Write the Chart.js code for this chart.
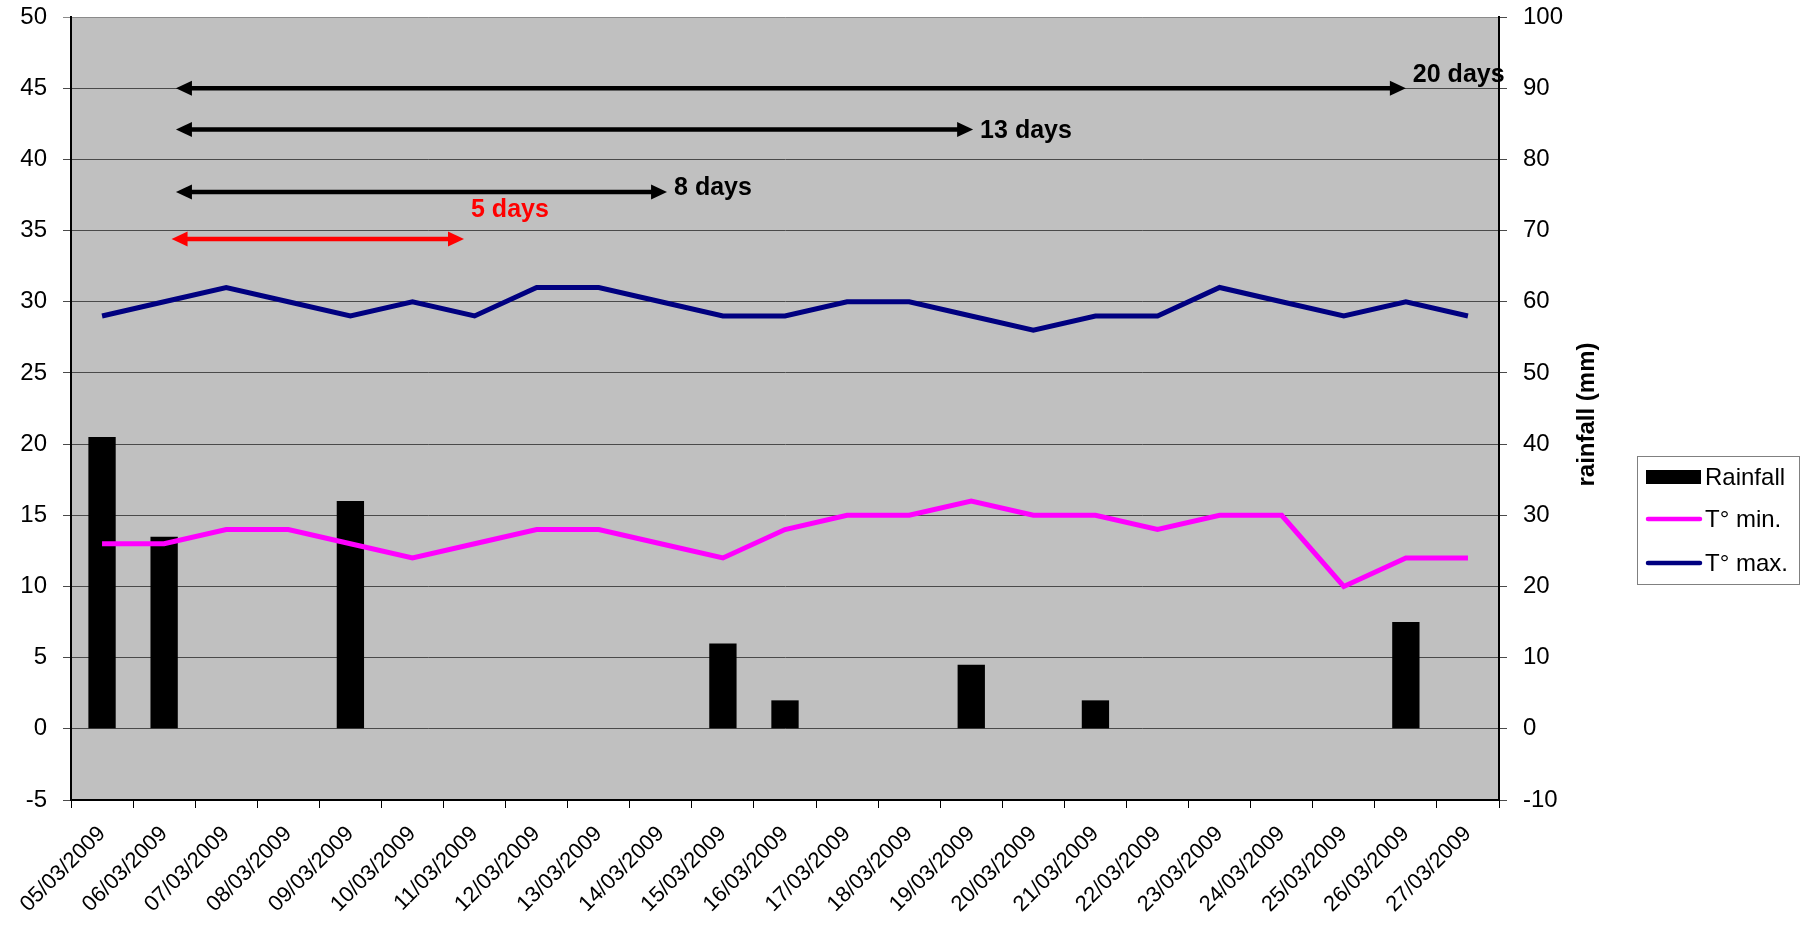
<!DOCTYPE html>
<html>
<head>
<meta charset="utf-8">
<title>Rainfall and temperature, March 2009</title>
<script src="https://cdn.jsdelivr.net/npm/chart.js@4/dist/chart.umd.min.js"></script>
<style>
  html, body { margin: 0; padding: 0; background: #ffffff; }
  #wrap { width: 1806px; height: 932px; position: relative; }
</style>
</head>
<body>
<div id="wrap"><canvas id="chart" width="1806" height="932"></canvas></div>
<script>
// Daily observations
const categories = ['05/03/2009','06/03/2009','07/03/2009','08/03/2009','09/03/2009','10/03/2009',
  '11/03/2009','12/03/2009','13/03/2009','14/03/2009','15/03/2009','16/03/2009','17/03/2009',
  '18/03/2009','19/03/2009','20/03/2009','21/03/2009','22/03/2009','23/03/2009','24/03/2009',
  '25/03/2009','26/03/2009','27/03/2009'];
const rainfall = [41, 27, 0, 0, 32, 0, 0, 0, 0, 0, 12, 4, 0, 0, 9, 0, 4, 0, 0, 0, 0, 15, 0];
const tMin = [13, 13, 14, 14, 13, 12, 13, 14, 14, 13, 12, 14, 15, 15, 16, 15, 15, 14, 15, 15, 10, 12, 12];
const tMax = [29, 30, 31, 30, 29, 30, 29, 31, 31, 30, 29, 29, 30, 30, 29, 28, 29, 29, 31, 30, 29, 30, 29];

// Temperature axis (left) and rainfall axis (right) tick ranges
const tempTicks = [-5, 50, 5];
const rainTicks = [-10, 100, 10];

// Duration spans: label, temperature level, start and end position in category units
const spanLabels = ['20 days', '13 days', '8 days', '5 days'];
const spanLevel = [45, 42.1, 37.7, 34.4];
const spanFrom = [1.19, 1.19, 1.19, 1.12];
const spanTo = [21, 14.03, 9.1, 5.83];

const FONT = "'Liberation Sans', Arial, sans-serif";
const spanColors = ['#000000', '#000000', '#000000', '#ff0000'];
const spanLabelDy = [-13, 2, -4, -29];

const plotBackground = {
  id: 'plotBackground',
  beforeDraw(chart) {
    const { ctx, chartArea: a } = chart;
    ctx.save();
    ctx.fillStyle = '#c0c0c0';
    ctx.fillRect(a.left, a.top, a.right - a.left, a.bottom - a.top);
    ctx.restore();
  }
};

function arrowHead(ctx, x, y, dir) {
  ctx.beginPath();
  ctx.moveTo(x, y);
  ctx.lineTo(x - dir * 16, y - 7.5);
  ctx.lineTo(x - dir * 16, y + 7.5);
  ctx.closePath();
  ctx.fill();
}

const spans = {
  id: 'spans',
  afterDraw(chart) {
    const { ctx } = chart;
    const xs = chart.scales.x, ys = chart.scales.y;
    ctx.save();
    spanLabels.forEach((label, i) => {
      const x0 = xs.getPixelForValue(spanFrom[i]);
      const x1 = xs.getPixelForValue(spanTo[i]);
      const y = ys.getPixelForValue(spanLevel[i]);
      ctx.strokeStyle = spanColors[i];
      ctx.fillStyle = spanColors[i];
      ctx.lineWidth = 4.5;
      ctx.beginPath();
      ctx.moveTo(x0 + 10, y);
      ctx.lineTo(x1 - 10, y);
      ctx.stroke();
      arrowHead(ctx, x0, y, -1);
      arrowHead(ctx, x1, y, 1);
      ctx.font = 'bold 25px ' + FONT;
      ctx.textAlign = 'left';
      ctx.textBaseline = 'middle';
      ctx.fillText(label, x1 + 7, y + spanLabelDy[i]);
    });
    ctx.restore();
  }
};

const sideDecor = {
  id: 'sideDecor',
  afterDraw(chart) {
    const { ctx, chartArea: a } = chart;
    ctx.save();
    // right axis title, reading bottom to top
    ctx.translate(1587, (a.top + a.bottom) / 2 + 6);
    ctx.rotate(-Math.PI / 2);
    ctx.font = 'bold 24px ' + FONT;
    ctx.fillStyle = '#000';
    ctx.textAlign = 'center';
    ctx.textBaseline = 'middle';
    ctx.fillText('rainfall (mm)', 0, 0);
    ctx.restore();

    // legend box
    const bx = 1637, by = 456, bw = 162, bh = 128;
    ctx.save();
    ctx.fillStyle = '#ffffff';
    ctx.fillRect(bx, by, bw, bh);
    ctx.strokeStyle = '#808080';
    ctx.lineWidth = 1;
    ctx.strokeRect(bx + 0.5, by + 0.5, bw, bh);
    ctx.font = '24px ' + FONT;
    ctx.textAlign = 'left';
    ctx.textBaseline = 'middle';
    const rows = [477, 519, 563];
    chart.data.datasets.forEach((ds, i) => {
      const y = rows[i];
      if (ds.type === 'bar') {
        ctx.fillStyle = ds.backgroundColor;
        ctx.fillRect(1646, y - 7, 55, 14);
      } else {
        ctx.strokeStyle = ds.borderColor;
        ctx.lineWidth = 4.5;
        ctx.lineCap = 'round';
        ctx.beginPath();
        ctx.moveTo(1648, y);
        ctx.lineTo(1700, y);
        ctx.stroke();
      }
      ctx.fillStyle = '#000';
      ctx.fillText(ds.label, 1705, y + 1);
    });
    ctx.restore();
  }
};

function fitVertical(width) {
  return (s) => { s.width = width; s.paddingTop = 0; s.paddingBottom = 0; };
}

new Chart(document.getElementById('chart'), {
  data: {
    labels: categories,
    datasets: [
      {
        type: 'bar', label: 'Rainfall', data: rainfall, yAxisID: 'y1', order: 3,
        backgroundColor: '#000000', borderWidth: 0,
        barPercentage: 0.44, categoryPercentage: 1
      },
      {
        type: 'line', label: 'T° min.', data: tMin, yAxisID: 'y', order: 1,
        borderColor: '#ff00ff', backgroundColor: '#ff00ff', borderWidth: 5,
        pointRadius: 0, tension: 0, fill: false
      },
      {
        type: 'line', label: 'T° max.', data: tMax, yAxisID: 'y', order: 2,
        borderColor: '#000080', backgroundColor: '#000080', borderWidth: 5,
        pointRadius: 0, tension: 0, fill: false
      }
    ]
  },
  options: {
    responsive: false,
    animation: false,
    layout: { padding: { top: 17, right: 197, left: 0, bottom: 0 } },
    plugins: { legend: { display: false }, tooltip: { enabled: false } },
    scales: {
      x: {
        offset: true,
        afterFit(s) { s.height = 132; s.paddingLeft = 0; s.paddingRight = 0; },
        grid: { display: true, offset: true, drawOnChartArea: false, drawTicks: true, tickLength: 8, color: '#000' },
        border: { display: true, color: '#000', width: 2 },
        ticks: { color: '#000', font: { family: FONT, size: 22 }, minRotation: 45, maxRotation: 45, autoSkip: false, padding: 13 }
      },
      y: {
        position: 'left',
        min: tempTicks[0], max: tempTicks[1],
        afterFit: fitVertical(71),
        grid: {
          color: (c) => (c.tick && c.tick.value === tempTicks[1]) ? '#8a8a8a' : '#4a4a4a',
          lineWidth: 1, tickLength: 8
        },
        border: { display: true, color: '#000', width: 2 },
        ticks: { stepSize: tempTicks[2], color: '#000', font: { family: FONT, size: 24 }, padding: 16 }
      },
      y1: {
        position: 'right',
        min: rainTicks[0], max: rainTicks[1],
        afterFit: fitVertical(110),
        grid: { drawOnChartArea: false, color: '#4a4a4a', tickLength: 8 },
        border: { display: true, color: '#000', width: 2 },
        ticks: { stepSize: rainTicks[2], color: '#000', font: { family: FONT, size: 24 }, padding: 16 }
      }
    }
  },
  plugins: [plotBackground, spans, sideDecor]
});
</script>
</body>
</html>
